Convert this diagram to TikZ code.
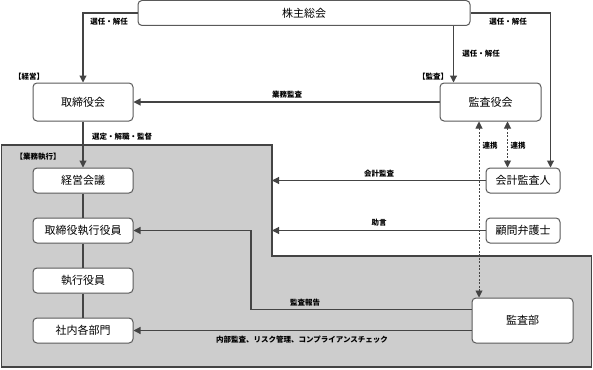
\documentclass[tikz,border=0pt]{standalone}
\usepackage{fontspec}
\setmainfont{Noto Sans CJK JP}
\usetikzlibrary{arrows.meta}
\definecolor{linec}{HTML}{444444}
\definecolor{boxc}{HTML}{5A5A5A}
\definecolor{areac}{HTML}{CDCDCD}
\tikzset{
  orgbox/.style={draw=boxc, line width=1pt, fill=white, rounded corners=4pt, font=\fontsize{11}{12}\selectfont, inner sep=0pt},
  conn/.style={draw=linec, line width=1.1pt},
  arr/.style={conn, -{Triangle[length=7pt,width=7pt]}},
  dbl/.style={draw=linec, line width=0.9pt, dash pattern=on 2pt off 1.5pt, {Triangle[length=7pt,width=7pt]}-{Triangle[length=7pt,width=7pt]}},
  lbl/.style={font=\fontsize{7.5}{8}\selectfont\bfseries, inner sep=0pt}
}
\begin{document}
\begin{tikzpicture}[x=1pt,y=-1pt]
\useasboundingbox (0,0) rectangle (593,369);
% gray execution area
\draw[fill=areac, draw=linec, line width=1.1pt] (1.5,145) -- (272,145) -- (272,256) -- (591.5,256) -- (591.5,367) -- (1.5,367) -- cycle;
\coordinate (notch) at (272,256);
\coordinate (rep) at (251,0);

% nodes
\node[orgbox, minimum width=332pt, minimum height=25pt] (sh) at (304,13) {株主総会};
\node[orgbox, minimum width=100pt, minimum height=38pt] (tb) at (83,102) {取締役会};
\node[orgbox, minimum width=101pt, minimum height=38pt] (ka) at (490.5,102) {監査役会};
\node[orgbox, minimum width=100pt, minimum height=25pt] (km) at (83,180.5) {経営会議};
\node[orgbox, minimum width=100pt, minimum height=25pt] (tse) at (83,230.5) {取締役執行役員};
\node[orgbox, minimum width=100pt, minimum height=25pt] (sy) at (83,280.5) {執行役員};
\node[orgbox, minimum width=100pt, minimum height=25pt] (sb) at (83,330.5) {社内各部門};
\node[orgbox, minimum width=74pt, minimum height=25pt] (kk) at (523,180.5) {会計監査人};
\node[orgbox, minimum width=74pt, minimum height=25pt] (kb) at (523,230.5) {顧問弁護士};
\node[orgbox, minimum width=101pt, minimum height=45pt] (kbu) at (522.5,320.5) {監査部};

\coordinate (kaIn) at ([xshift=14pt]ka.north west);
\coordinate (kkIn) at ([xshift=-10pt]kk.north east);
\coordinate (d1) at ([xshift=-11.5pt]ka.south);
\coordinate (d2) at ([xshift=17pt]ka.south);
\coordinate (repOut) at ([yshift=11pt]kbu.west);
\coordinate (audOut) at ([yshift=-10pt]kbu.west);

% connectors
\draw[arr] (sh.west) -| (tb.north);
\draw[arr] (kaIn |- sh.south) -- (kaIn);
\draw[arr] (sh.east) -| (kkIn);
\draw[arr] (ka.west) -- (tb.east);
\draw[arr] (tb.south) -- (km.north);
\draw[conn] (km.south) -- (tse.north);
\draw[conn] (tse.south) -- (sy.north);
\draw[conn] (sy.south) -- (sb.north);
\draw[arr] (kk.west) -- (kk.west -| notch);
\draw[arr] (kb.west) -- (kb.west -| notch);
\draw[dbl] (d1) -- (d1 |- kbu.north);
\draw[dbl] (d2) -- (d2 |- kk.north);
\draw[arr] (repOut) -- (rep |- repOut) -- (rep |- tse.east) -- (tse.east);
\draw[arr] (audOut) -- (sb.east |- audOut);

% labels
\node[lbl] (l1) at (109,21.5) {選任・解任};
\node[lbl] (l2) at (481,54) {選任・解任};
\node[lbl] (l3) at (508,21.5) {選任・解任};
\node[lbl] (l4) at (29,77) {【経営】};
\node[lbl] (l5) at (433,77) {【監査】};
\node[lbl] (l6) at (287,95) {業務監査};
\node[lbl] (l7) at (122,137) {選定・解職・監督};
\node[lbl] (l8) at (38,156.5) {【業務執行】};
\node[lbl] (l9) at (379,174) {会計監査};
\node[lbl] (l10) at (379,223) {助言};
\node[lbl] (l11) at (490,145.5) {連携};
\node[lbl] (l12) at (518,145.5) {連携};
\node[lbl] (l13) at (305,302.5) {監査報告};
\node[lbl] (l14) at (302,340) {内部監査、リスク管理、コンプライアンスチェック};
\end{tikzpicture}
\end{document}
